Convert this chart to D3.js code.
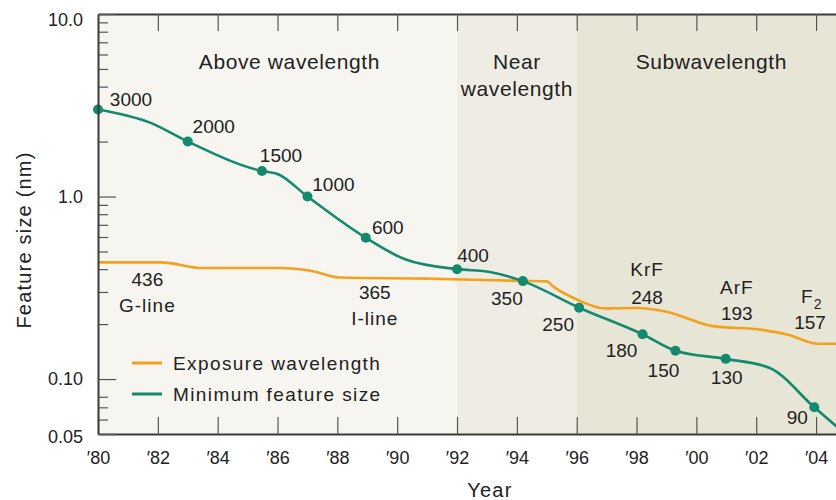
<!DOCTYPE html>
<html>
<head>
<meta charset="utf-8">
<script src="https://cdn.jsdelivr.net/npm/d3@7"></script>
<style>
  body { margin: 0; background: #fff; }
  text { font-family: "Liberation Sans", Arial, sans-serif; fill: #222; }
</style>
</head>
<body>
<svg id="chart" width="836" height="500"></svg>
<script>
// exposure wavelength
var waveYears  = [1980, 1982.1, 1983.5, 1986.1, 1987.1, 1988.1, 1991, 1994.1, 1995.0, 1995.2, 1996.0, 1996.95, 1998.0, 1999.0, 2000.55, 2002.2, 2003.06, 2004.06, 2004.8];
var waveValues = [0.436, 0.436, 0.406, 0.406, 0.392, 0.36, 0.355, 0.345, 0.343, 0.323, 0.273, 0.244, 0.245, 0.234, 0.195, 0.186, 0.175, 0.156, 0.156];

// minimum feature size
var featYears  = [1980, 1981.74, 1983.0, 1985.48, 1986.0, 1987.0, 1988.95, 1990.26, 1992.0, 1993.1, 1994.2, 1996.08, 1998.2, 1999.3, 2000.98, 2002.45, 2003.94, 2004.8];
var featValues = [3.0, 2.54, 2.0, 1.38, 1.33, 1.0, 0.594, 0.453, 0.40, 0.386, 0.344, 0.246, 0.176, 0.143, 0.129, 0.115, 0.070, 0.053];

// node markers
var nodeYears  = [1980, 1983.0, 1985.48, 1987.0, 1988.95, 1992.0, 1994.2, 1996.08, 1998.2, 1999.3, 2000.98, 2003.94];
var nodeValues = [3.0, 2.0, 1.38, 1.0, 0.594, 0.40, 0.344, 0.246, 0.176, 0.143, 0.129, 0.070];
var nodeLabels = ["3000", "2000", "1500", "1000", "600", "400", "350", "250", "180", "150", "130", "90"];

// light sources
var sourceNames = ["G-line", "I-line", "KrF", "ArF", "F"];
var sourceNums  = ["436", "365", "248", "193", "157"];
var sourceYears = [1981.65, 1989.25, 1998.35, 2001.35, 2003.8];

var regionNames  = [["Above wavelength"], ["Near", "wavelength"], ["Subwavelength"]];
var regionBounds = [1980, 1992, 1996, 2006];

var yearTicks   = [1980, 1982, 1984, 1986, 1988, 1990, 1992, 1994, 1996, 1998, 2000, 2002, 2004];
var majorTicks  = [10, 1, 0.1, 0.05];
var majorLabels = ["10.0", "1.0", "0.10", "0.05"];
var minorTicks  = [9, 8, 7, 6, 5, 4, 2, 0.9, 0.8, 0.7, 0.6, 0.5, 0.4, 0.3, 0.2, 0.08, 0.07, 0.06];

(function() {
  var plotLeft = 98, plotTop = 14, plotBottom = 434;
  var orange = "#f4a11f", teal = "#138a6e";

  var svg = d3.select("#chart");

  var x = d3.scaleLinear().domain([1980, 2005]).range([plotLeft, plotLeft + 25 * 29.92]);
  var y = d3.scaleLog().domain([0.05, 10]).range([plotBottom, plotTop]);

  // shaded regions
  var shades = ["#f7f5ef", "#efede3", "#e7e5d6"];
  svg.selectAll(".region")
    .data(regionNames)
    .enter().append("rect")
    .attr("class", "region")
    .attr("x", (d, i) => x(regionBounds[i]))
    .attr("width", (d, i) => x(regionBounds[i + 1]) - x(regionBounds[i]))
    .attr("y", plotTop)
    .attr("height", plotBottom - plotTop)
    .attr("fill", (d, i) => shades[i]);

  var regionX = [1986.4, 1994, 2000.5];
  regionNames.forEach(function(lines, i) {
    lines.forEach(function(t, j) {
      svg.append("text")
        .attr("x", x(regionX[i]))
        .attr("y", 61 + j * 27)
        .attr("dy", "0.36em")
        .attr("text-anchor", "middle")
        .attr("font-size", 21)
        .attr("letter-spacing", 0.6)
        .text(t);
    });
  });

  var line = d3.line()
    .x(d => x(d[0]))
    .y(d => y(d[1]))
    .curve(d3.curveMonotoneX);

  svg.append("path")
    .datum(d3.zip(waveYears, waveValues))
    .attr("d", line)
    .attr("fill", "none")
    .attr("stroke", orange)
    .attr("stroke-width", 2.6);

  svg.append("path")
    .datum(d3.zip(featYears, featValues))
    .attr("d", line)
    .attr("fill", "none")
    .attr("stroke", teal)
    .attr("stroke-width", 2.6);

  svg.selectAll(".node")
    .data(d3.zip(nodeYears, nodeValues))
    .enter().append("circle")
    .attr("class", "node")
    .attr("cx", d => x(d[0]))
    .attr("cy", d => y(d[1]))
    .attr("r", 5)
    .attr("fill", teal);

  // label offsets from each node, in pixels
  var nodeOffsets = [[33, -10], [26, -15], [19, -16], [26, -12], [22, -11], [16, -14],
                     [-16, 17], [-21, 16], [-21, 16], [-12, 19], [1, 18], [-17, 10]];
  svg.selectAll(".nodeLabel")
    .data(nodeLabels)
    .enter().append("text")
    .attr("class", "nodeLabel")
    .attr("x", (d, i) => x(nodeYears[i]) + nodeOffsets[i][0])
    .attr("y", (d, i) => y(nodeValues[i]) + nodeOffsets[i][1])
    .attr("dy", "0.36em")
    .attr("text-anchor", "middle")
    .attr("font-size", 19)
    .text(d => d);

  // source labels: number and name, offsets from the orange line
  var waveAt = d3.scaleLinear().domain(waveYears).range(waveValues);
  var numDy  = [17, 14, -12, -15, -19];
  var nameDy = [43, 40, -40, -41, -45];
  sourceNames.forEach(function(name, i) {
    var cx = x(sourceYears[i]);
    var cy = y(waveAt(sourceYears[i]));
    svg.append("text")
      .attr("x", cx).attr("y", cy + numDy[i]).attr("dy", "0.36em")
      .attr("text-anchor", "middle").attr("font-size", 19)
      .text(sourceNums[i]);
    var t = svg.append("text")
      .attr("x", cx).attr("y", cy + nameDy[i]).attr("dy", "0.36em")
      .attr("text-anchor", "middle").attr("font-size", 19)
      .attr("letter-spacing", 1)
      .text(name);
    if (name === "F") {
      t.attr("text-anchor", "start").attr("x", cx - 9);
      t.append("tspan").attr("font-size", 14).attr("dy", "0.45em").text("2");
    }
  });

  // legend
  var legendNames = ["Exposure wavelength", "Minimum feature size"];
  var legendColors = [orange, teal];
  legendNames.forEach(function(name, i) {
    var ly = 363 + i * 31;
    svg.append("line")
      .attr("x1", 132).attr("x2", 162).attr("y1", ly).attr("y2", ly)
      .attr("stroke", legendColors[i]).attr("stroke-width", 3);
    svg.append("text")
      .attr("x", 173).attr("y", ly).attr("dy", "0.36em")
      .attr("font-size", 19).attr("letter-spacing", 1.4)
      .text(name);
  });

  // axes
  var gx = svg.append("g")
    .attr("transform", "translate(0," + plotBottom + ")")
    .call(d3.axisBottom(x).tickValues(yearTicks).tickSize(-17).tickSizeOuter(0)
      .tickPadding(17).tickFormat(d => "\u2032" + String(d).slice(2)));

  var gt = svg.append("g")
    .attr("transform", "translate(0," + plotTop + ")")
    .call(d3.axisTop(x).tickValues(yearTicks.slice(1)).tickSize(-17).tickSizeOuter(0).tickFormat(""));

  var gyMinor = svg.append("g")
    .attr("transform", "translate(" + plotLeft + ",0)")
    .call(d3.axisLeft(y).tickValues(minorTicks).tickSize(-10).tickSizeOuter(0).tickFormat(""));

  var gy = svg.append("g")
    .attr("transform", "translate(" + plotLeft + ",0)")
    .call(d3.axisLeft(y).tickValues(majorTicks).tickSize(-18).tickSizeOuter(0)
      .tickPadding(15).tickFormat((d, i) => majorLabels[i]));

  gy.selectAll(".tick text").filter(d => d === 10).attr("y", 6);
  gy.selectAll(".tick text").filter(d => d === 0.05).attr("y", 3);

  [gx, gt, gy, gyMinor].forEach(function(g) {
    g.select(".domain").attr("stroke", "#3a3a3a").attr("stroke-width", 2);
    g.selectAll(".tick line").attr("stroke", "#555").attr("stroke-width", 1.2);
    g.selectAll(".tick text")
      .attr("font-size", 18)
      .attr("font-family", "Liberation Sans, Arial, sans-serif")
      .attr("fill", "#222");
  });
  gyMinor.select(".domain").attr("stroke", "none");

  // axis titles
  svg.append("text")
    .attr("x", x(1993.1)).attr("y", 490).attr("dy", "0.36em")
    .attr("text-anchor", "middle").attr("font-size", 20).attr("letter-spacing", 1.2)
    .text("Year");

  svg.append("text")
    .attr("transform", "translate(24,240) rotate(-90)")
    .attr("dy", "0.36em")
    .attr("text-anchor", "middle").attr("font-size", 20).attr("letter-spacing", 1.2)
    .text("Feature size (nm)");
})();
</script>
</body>
</html>
